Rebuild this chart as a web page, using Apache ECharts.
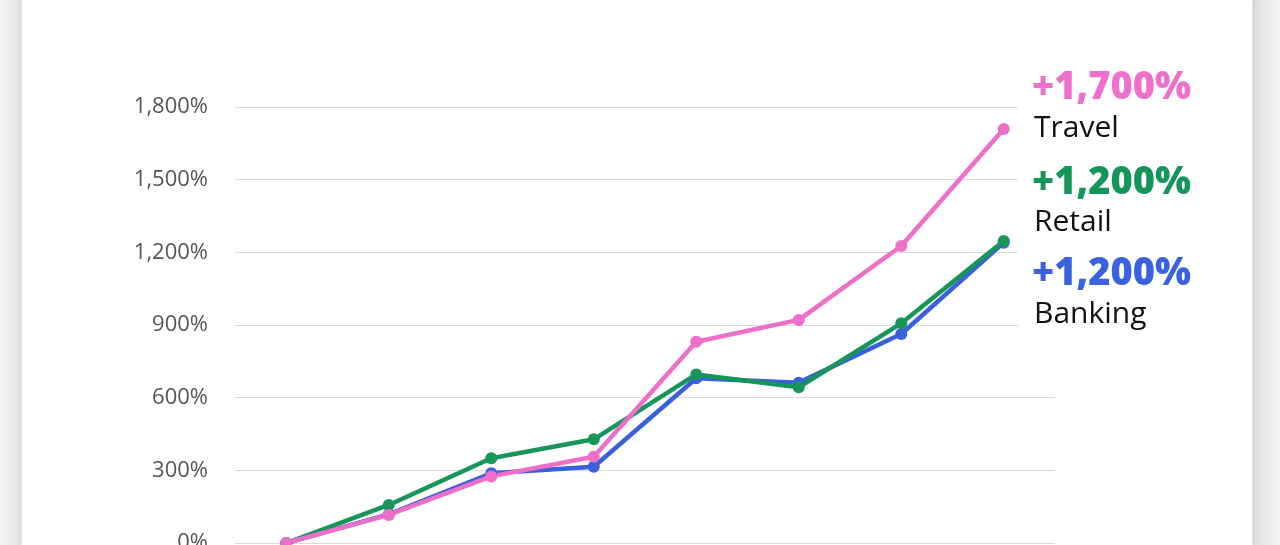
<!DOCTYPE html>
<html>
<head>
<meta charset="utf-8">
<script src="https://cdn.jsdelivr.net/npm/echarts@6/dist/echarts.min.js"></script>
<style>
  html, body { margin: 0; padding: 0; width: 1280px; height: 545px; overflow: hidden;
    background: linear-gradient(to right, #f4f4f4 0px, #e2e2e2 21px, #ffffff 22px, #ffffff 1252px, #dedede 1253px, #f6f6f6 1280px); }
  #card { position: absolute; left: 22px; top: 0; width: 1230px; height: 545px; background: #fff;
    box-shadow: 0 0 6px rgba(0,0,0,0.12); }
  #main { position: absolute; left: 0; top: 0; width: 1280px; height: 545px; }
</style>
</head>
<body>
<div id="card"></div>
<div id="main"></div>
<script>
// 数据
var periods = ['P1', 'P2', 'P3', 'P4', 'P5', 'P6', 'P7', 'P8'];
var travel  = [0, 116, 275, 356, 831, 921, 1226, 1709];
var retail  = [0, 157, 350, 428, 696, 643, 907, 1247];
var banking = [0, 118, 288, 315, 680, 662, 863, 1240];
var yTicks  = [0, 300, 600, 900, 1200, 1500, 1800];
var seriesNames  = ['Travel', 'Retail', 'Banking'];
var growthLabels = ['+1,700%', '+1,200%', '+1,200%'];

var colors = { Travel: '#ee6fc9', Retail: '#17965a', Banking: '#3b60dc' };
var labelColors = ['#ef6fcc', '#14955a', '#3a61de'];

var myChart = echarts.init(document.getElementById('main'), null, { renderer: 'canvas' });

function lineSeries(name, data) {
	return {
		name: name,
		type: 'line',
		data: data,
		symbol: 'circle',
		symbolSize: 12,
		lineStyle: { width: 4.5, color: colors[name] },
		itemStyle: { color: colors[name] },
		animation: false
	};
}

// 右侧标注
var labelGraphics = [{
	type: 'rect',
	shape: { x: 1018, y: 60, width: 200, height: 280 },
	style: { fill: '#ffffff' },
	z: 5
}];
var percentTop = [69, 164, 255];
var nameTop = [113, 207, 299];
for (var i = 0; i < seriesNames.length; i++) {
	labelGraphics.push({
		type: 'text', z: 6, left: 1032, top: percentTop[i],
		style: { text: growthLabels[i], fill: labelColors[i], font: '800 38px "Open Sans"' }
	});
	labelGraphics.push({
		type: 'text', z: 6, left: 1034, top: nameTop[i],
		style: { text: seriesNames[i], fill: '#111', font: '400 30px "Open Sans"' }
	});
}

myChart.setOption({
	backgroundColor: 'transparent',
	grid: { left: 235, right: 225, top: 107, bottom: 2, containLabel: false, outerBoundsMode: 'none' },
	xAxis: {
		type: 'category',
		data: periods,
		boundaryGap: true,
		axisLine: { show: false },
		axisTick: { show: false },
		axisLabel: { show: false }
	},
	yAxis: {
		type: 'value',
		min: yTicks[0],
		max: yTicks[yTicks.length - 1],
		interval: yTicks[1] - yTicks[0],
		axisLine: { show: false },
		axisTick: { show: false },
		splitLine: { lineStyle: { color: '#d9d9d9', width: 1.2 } },
		axisLabel: {
			margin: 27,
			color: '#555',
			fontSize: 22,
			fontFamily: 'Open Sans',
			formatter: function (v) { return v.toLocaleString('en-US') + '%'; }
		}
	},
	series: [
		lineSeries('Banking', banking),
		lineSeries('Retail', retail),
		lineSeries('Travel', travel)
	],
	graphic: labelGraphics
});
</script>
</body>
</html>
